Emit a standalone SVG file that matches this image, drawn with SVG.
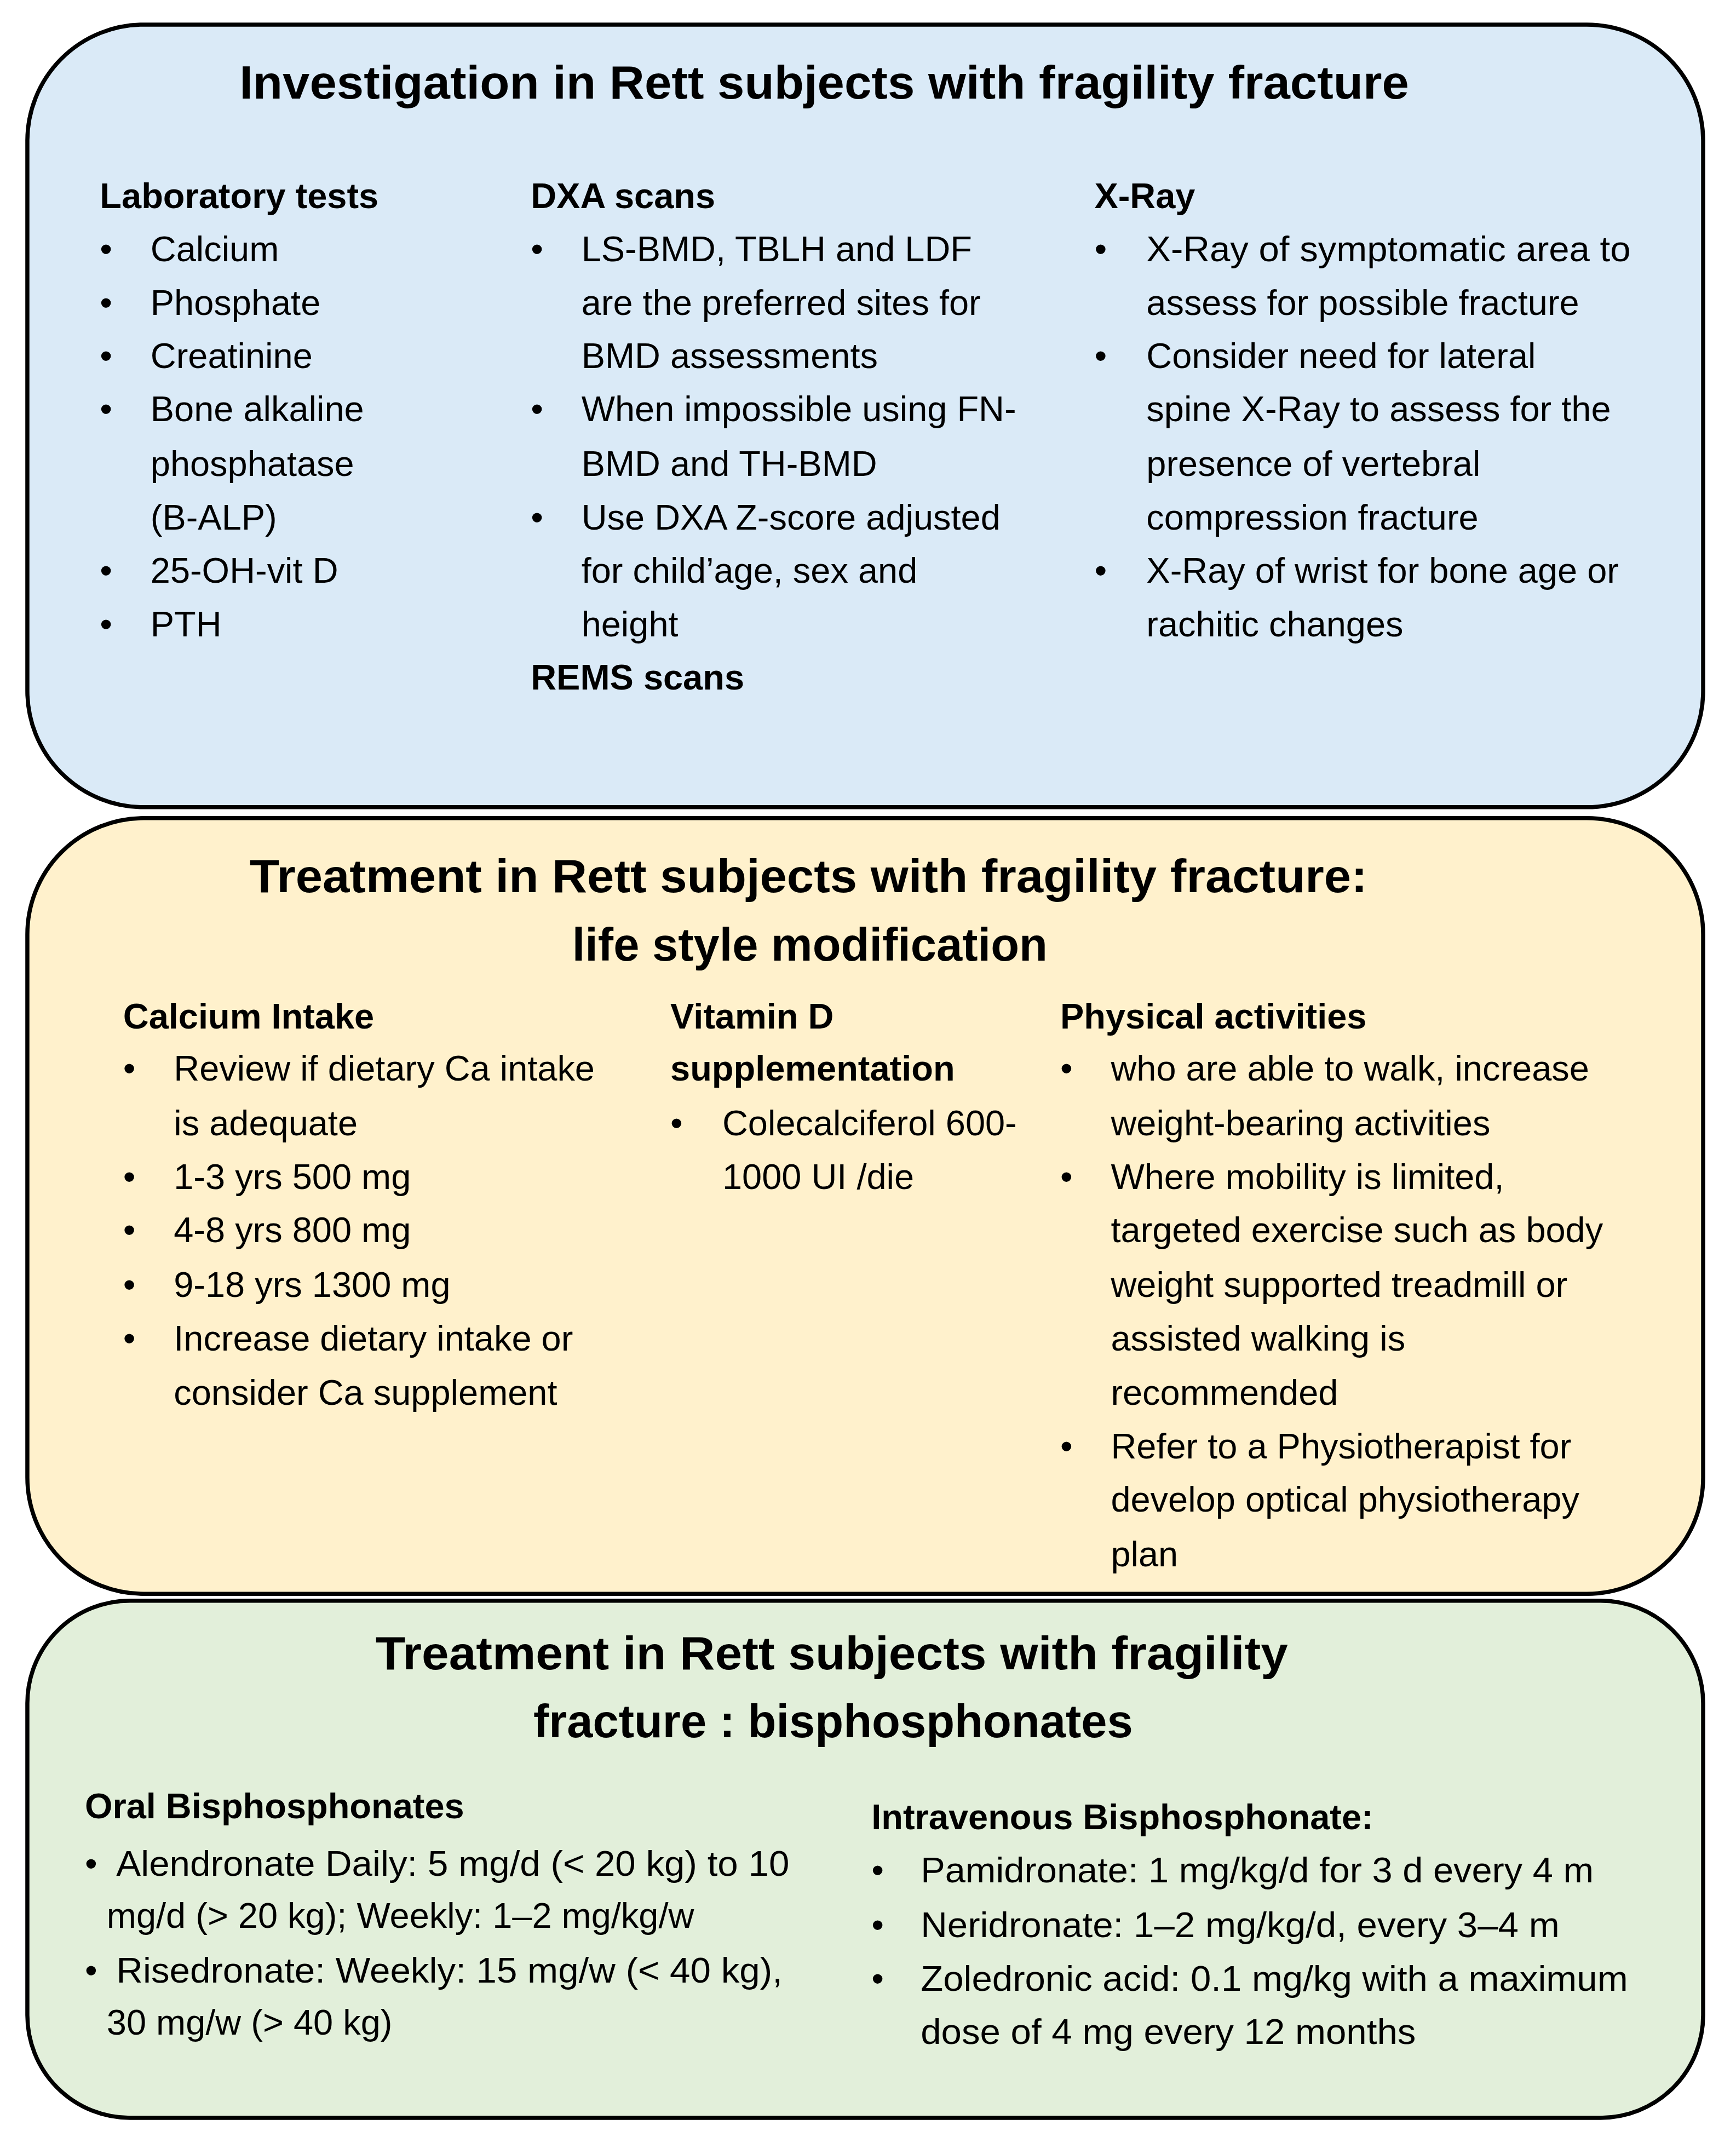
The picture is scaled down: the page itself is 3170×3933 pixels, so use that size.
<svg xmlns="http://www.w3.org/2000/svg" width="3170" height="3933" viewBox="0 0 3170 3933">
<style>
.box{stroke:#000;stroke-width:3}
text{font-family:"Liberation Sans",Arial,sans-serif;fill:#000}
.t{font-size:34px;font-weight:bold}
.h{font-size:26px;font-weight:bold}
.b{font-size:26px}
</style>
<rect width="3170" height="3933" fill="#fff"/>
<g transform="scale(2.498)">
<g id="investigation">
<rect class="box" x="20" y="18" width="1225" height="572" rx="85" fill="#DAEAF7"/>
<text class="t" x="175" y="72" textLength="855" lengthAdjust="spacingAndGlyphs">Investigation in Rett subjects with fragility fracture</text>
<text class="h" x="73" y="152">Laboratory  tests</text>
<g class="b">
<text x="73" y="191">•</text><text x="110" y="191">Calcium</text>
<text x="73" y="230">•</text><text x="110" y="230">Phosphate</text>
<text x="73" y="269">•</text><text x="110" y="269">Creatinine</text>
<text x="73" y="308">•</text><text x="110" y="308">Bone alkaline</text>
<text x="110" y="348">phosphatase</text>
<text x="110" y="387">(B-ALP)</text>
<text x="73" y="426">•</text><text x="110" y="426">25-OH-vit D</text>
<text x="73" y="465">•</text><text x="110" y="465">PTH</text>
</g>
<text class="h" x="388" y="152">DXA scans</text>
<g class="b">
<text x="388" y="191">•</text><text x="425" y="191">LS-BMD, TBLH and LDF</text>
<text x="425" y="230">are the preferred sites for</text>
<text x="425" y="269">BMD assessments</text>
<text x="388" y="308">•</text><text x="425" y="308">When impossible using  FN-</text>
<text x="425" y="348">BMD and TH-BMD</text>
<text x="388" y="387">•</text><text x="425" y="387">Use DXA Z-score adjusted</text>
<text x="425" y="426">for child’age, sex  and</text>
<text x="425" y="465">height</text>
</g>
<text class="h" x="388" y="504">REMS scans</text>
<text class="h" x="800" y="152">X-Ray</text>
<g class="b">
<text x="800" y="191">•</text><text x="838" y="191" textLength="354" lengthAdjust="spacingAndGlyphs">X-Ray of symptomatic area to</text>
<text x="838" y="230">assess for possible fracture</text>
<text x="800" y="269">•</text><text x="838" y="269">Consider need for lateral</text>
<text x="838" y="308">spine X-Ray to assess for the</text>
<text x="838" y="348">presence of vertebral</text>
<text x="838" y="387">compression fracture</text>
<text x="800" y="426">•</text><text x="838" y="426">X-Ray of wrist for bone age or</text>
<text x="838" y="465">rachitic changes</text>
</g>
</g>
<g id="lifestyle">
<rect class="box" x="20" y="598" width="1225" height="567" rx="85" fill="#FFF1CC"/>
<text class="t" x="591" y="652" text-anchor="middle" textLength="817" lengthAdjust="spacingAndGlyphs">Treatment in Rett subjects with fragility fracture:</text>
<text class="t" x="592" y="702" text-anchor="middle">life style modification</text>
<text class="h" x="90" y="752">Calcium Intake</text>
<g class="b">
<text x="90" y="790">•</text><text x="127" y="790">Review if dietary Ca intake</text>
<text x="127" y="830">is adequate</text>
<text x="90" y="869">•</text><text x="127" y="869">1-3 yrs 500 mg</text>
<text x="90" y="908">•</text><text x="127" y="908">4-8 yrs 800 mg</text>
<text x="90" y="948">•</text><text x="127" y="948">9-18 yrs 1300 mg</text>
<text x="90" y="987">•</text><text x="127" y="987">Increase dietary intake or</text>
<text x="127" y="1027">consider Ca supplement</text>
</g>
<text class="h" x="490" y="752">Vitamin D</text>
<text class="h" x="490" y="790">supplementation</text>
<g class="b">
<text x="490" y="830">•</text><text x="528" y="830">Colecalciferol 600-</text>
<text x="528" y="869">1000 UI /die</text>
</g>
<text class="h" x="775" y="752">Physical activities</text>
<g class="b">
<text x="775" y="790">•</text><text x="812" y="790">who are able to walk,  increase</text>
<text x="812" y="830">weight-bearing activities</text>
<text x="775" y="869">•</text><text x="812" y="869">Where mobility is limited,</text>
<text x="812" y="908">targeted exercise such as body</text>
<text x="812" y="948">weight supported treadmill or</text>
<text x="812" y="987">assisted walking is</text>
<text x="812" y="1027">recommended</text>
<text x="775" y="1066">•</text><text x="812" y="1066">Refer to a Physiotherapist for</text>
<text x="812" y="1105">develop optical physiotherapy</text>
<text x="812" y="1145">plan</text>
</g>
</g>
<g id="bisphosphonates">
<rect class="box" x="20" y="1170" width="1225" height="378" rx="75" fill="#E2EFDA"/>
<text class="t" x="608" y="1220" text-anchor="middle" textLength="667" lengthAdjust="spacingAndGlyphs">Treatment in Rett subjects with fragility</text>
<text class="t" x="609" y="1270" text-anchor="middle">fracture : bisphosphonates</text>
<text class="h" x="62" y="1329">Oral Bisphosphonates</text>
<g class="b">
<text x="62" y="1371">•</text><text x="85" y="1371" textLength="492" lengthAdjust="spacingAndGlyphs">Alendronate Daily: 5 mg/d (&lt; 20 kg) to 10</text>
<text x="78" y="1409">mg/d (&gt; 20 kg); Weekly: 1–2 mg/kg/w</text>
<text x="62" y="1449">•</text><text x="85" y="1449" textLength="487" lengthAdjust="spacingAndGlyphs">Risedronate: Weekly: 15 mg/w (&lt; 40 kg),</text>
<text x="78" y="1487">30 mg/w (&gt; 40 kg)</text>
</g>
<text class="h" x="637" y="1337">Intravenous Bisphosphonate:</text>
<g class="b">
<text x="637" y="1376">•</text><text x="673" y="1376" textLength="492" lengthAdjust="spacingAndGlyphs">Pamidronate: 1 mg/kg/d for 3 d every 4 m</text>
<text x="637" y="1416">•</text><text x="673" y="1416" textLength="467" lengthAdjust="spacingAndGlyphs">Neridronate: 1–2 mg/kg/d, every 3–4 m</text>
<text x="637" y="1455">•</text><text x="673" y="1455" textLength="517" lengthAdjust="spacingAndGlyphs">Zoledronic acid: 0.1 mg/kg with a maximum</text>
<text x="673" y="1494" textLength="362" lengthAdjust="spacingAndGlyphs">dose of 4 mg every 12 months</text>
</g>
</g>
<g id="connectors"/>
</g>
</svg>
